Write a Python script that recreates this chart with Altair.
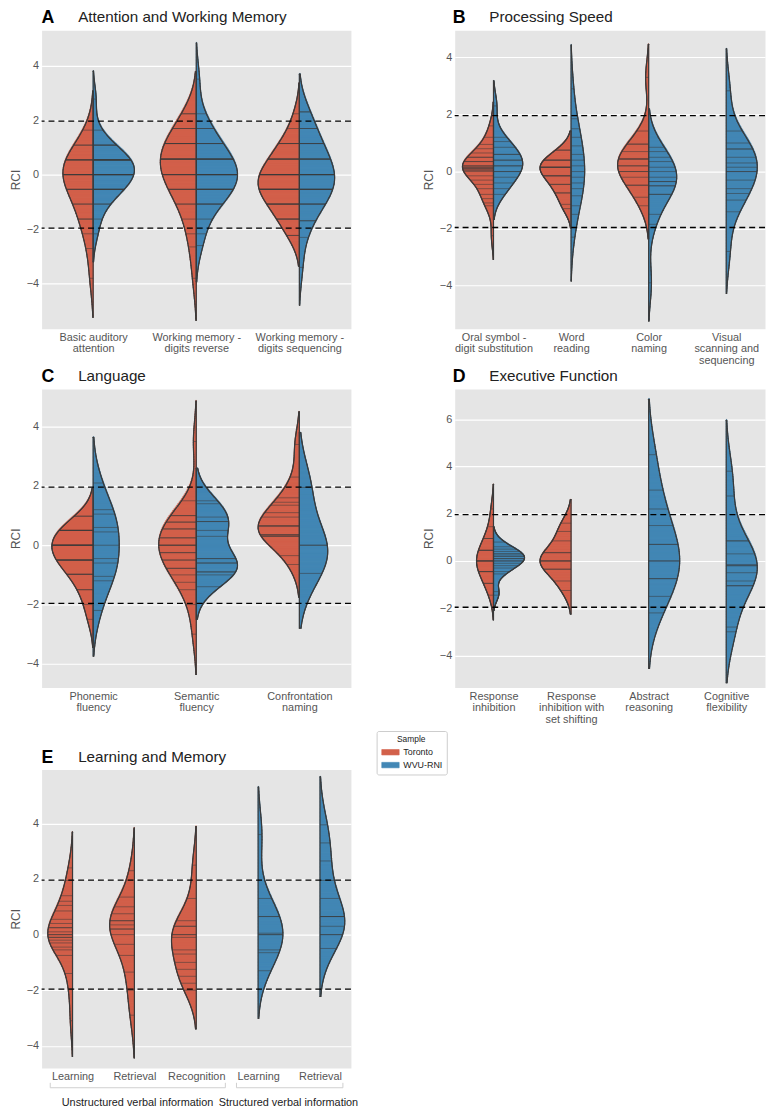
import json
import numpy as np
import pandas as pd
import altair as alt

FONT = "Liberation Sans, Arial, sans-serif"
TOR = "#D2604A"
WVU = "#4287B5"
EDGE = "#3a3a3a"
BG = "#E5E5E5"
SAMPLES = ["Toronto", "WVU-RNI"]
THRESH = [1.96, -1.96]

# ---------------- data (RCI values) ----------------
A_cats = [["Basic auditory", "attention"], ["Working memory -", "digits reverse"], ["Working memory -", "digits sequencing"]]
A_basic_T = [1.63, 1.08, 1.08, 0.54, 0.54, 0.54, 0.54, 0.0, 0.0, 0.0, 0.0, 0.0, -0.54, -0.54, -0.54, -1.08, -1.08, -1.63, -1.63, -2.17, -2.71, -3.8]
A_basic_W = [2.77, 1.63, 1.08, 1.08, 1.08, 0.54, 0.54, 0.54, 0.54, 0.54, 0.54, 0.54, 0.0, 0.0, 0.0, 0.0, 0.0, 0.0, 0.0, -0.54, -0.54, -0.54, -0.54, -0.54, -1.08, -1.08, -1.63, -2.17]
A_wmr_T = [2.23, 2.23, 1.69, 1.69, 1.14, 1.14, 1.14, 1.14, 0.57, 0.57, 0.57, 0.57, 0.57, 0.0, 0.0, 0.0, 0.0, -0.54, -0.54, -0.54, -1.08, -1.08, -1.63, -2.17, -2.65, -3.8]
A_wmr_W = [3.5, 2.23, 1.69, 1.69, 1.14, 1.14, 1.14, 0.57, 0.57, 0.57, 0.57, 0.57, 0.0, 0.0, 0.0, 0.0, 0.0, 0.0, -0.54, -0.54, -0.54, -0.54, -0.54, -1.08, -1.08, -1.08, -1.63, -2.17, -2.6]
A_wms_T = [2.23, 1.69, 1.14, 1.14, 1.14, 0.57, 0.57, 0.57, 0.57, 0.0, 0.0, 0.0, 0.0, 0.0, 0.0, -0.54, -0.54, -0.54, -0.54, -0.54, -0.54, -1.08, -1.08, -1.08, -1.08, -1.63, -1.63, -1.63, -2.23, -2.23]
A_wms_W = [2.3, 2.3, 1.69, 1.69, 1.14, 1.14, 1.14, 0.57, 0.57, 0.57, 0.57, 0.0, 0.0, 0.0, 0.0, 0.0, -0.54, -0.54, -0.54, -0.54, -0.54, -1.08, -1.08, -1.08, -1.69, -1.69, -2.3, -3.4]

B_cats = [["Oral symbol -", "digit substitution"], ["Word", "reading"], ["Color", "naming"], ["Visual", "scanning and", "sequencing"]]
B_oral_T = [1.6, 1.2, 0.95, 0.8, 0.65, 0.5, 0.5, 0.35, 0.35, 0.2, 0.2, 0.15, 0.15, 0.1, 0.1, 0.05, 0.05, 0.0, -0.15, -0.3, -0.45, -0.6, -0.8, -0.95, -1.1, -1.2, -2.25]
B_oral_W = [2.3, 1.2, 1.05, 0.85, 0.6, 0.6, 0.4, 0.4, 0.2, 0.2, 0.0, 0.0, -0.2, -0.4, -0.6, -0.8]
B_word_T = [0.75, 0.75, 0.4, 0.4, 0.4, 0.15, 0.15, 0.15, 0.15, -0.15, -0.15, -0.15, -0.45, -0.45, -0.75, -0.75, -1.15, -1.3]
B_word_W = [2.9, 1.85, 1.5, 1.2, 0.9, 0.6, 0.4, 0.2, 0.0, -0.2, -0.4, -0.6, -0.85, -1.2, -1.5, -2.3]
B_color_T = [3.3, 1.42, 0.96, 0.96, 0.7, 0.44, 0.44, 0.44, 0.2, 0.2, 0.0, 0.0, -0.2, -0.48, -0.48, -0.9, -1.2]
B_color_W = [0.85, 0.7, 0.5, 0.35, 0.15, 0.0, -0.2, -0.35, -0.35, -0.5, -0.5, -0.8, -0.8, -1.5, -1.85, -3.9]
B_visual_W = [2.83, 1.42, 1.0, 0.79, 0.79, 0.5, 0.3, 0.15, 0.0, 0.0, -0.3, -0.6, -0.77, -1.0, -1.41, -2.8]

C_cats = [["Phonemic", "fluency"], ["Semantic", "fluency"], ["Confrontation", "naming"]]
C_phon_T = [0.98, 0.98, 0.5, 0.5, 0.5, 0.5, 0.5, 0.0, 0.0, 0.0, 0.0, 0.0, 0.0, -0.5, -0.5, -0.5, -0.5, -0.5, -0.98, -0.98, -0.98, -1.5, -1.5, -2.0, -2.5]
C_phon_W = [2.1, 1.2, 1.05, 0.6, 0.45, 0.0, -0.45, -0.6, -1.05, -1.2, -2.2]
C_sem_T = [3.5, 1.5, 1.0, 1.0, 0.78, 0.78, 0.55, 0.55, 0.25, 0.25, 0.0, 0.0, 0.0, -0.25, -0.25, -0.5, -0.5, -0.78, -0.78, -1.0, -1.25, -1.5, -2.0, -3.0]
C_sem_W = [1.5, 1.4, 0.95, 0.8, 0.8, 0.5, 0.3, -0.45, -0.45, -0.6, -0.6, -0.9, -0.9, -1.0, -1.4]
C_conf_T = [3.4, 2.3, 1.6, 1.45, 1.35, 1.1, 0.95, 0.65, 0.65, 0.65, 0.35, 0.35, 0.35, 0.3, 0.3, -0.35, -0.65]
C_conf_W = [1.95, 0.0, 0.0, -0.95]

D_cats = [["Response", "inhibition"], ["Response", "inhibition with", "set shifting"], ["Abstract", "reasoning"], ["Cognitive", "flexibility"]]
D_resp_T = [2.2, 1.45, 0.95, 0.95, 0.45, 0.45, 0.45, 0.0, 0.0, 0.0, 0.0, -0.45, -0.45, -0.45, -0.95, -0.95, -1.45]
D_resp_W = [0.8, 0.6, 0.5, 0.4, 0.3, 0.3, 0.2, 0.2, 0.1, 0.1, 0.0, 0.0, -0.1, -0.2, -0.3, -0.45, -0.55, -1.3, -1.45]
D_shift_T = [1.6, 1.25, 0.85, 0.35, 0.35, 0.0, 0.0, 0.0, -0.35, -0.35, -0.85, -1.25]
D_abs_W = [4.5, 3.0, 2.2, 1.5, 0.7, 0.7, 0.0, 0.0, -0.75, -0.75, -1.5, -2.2]
D_cog_W = [3.8, 2.75, 0.85, 0.85, 0.3, -0.15, -0.2, -0.2, -0.5, -0.85, -1.05, -1.05, -2.8, -3.0]

E_cats = [["Learning"], ["Retrieval"], ["Recognition"], ["Learning"], ["Retrieval"]]
E_learn_T = [2.4, 1.95, 1.4, 1.2, 1.05, 0.85, 0.55, 0.4, 0.25, 0.25, 0.1, 0.0, 0.0, -0.1, -0.1, -0.2, -0.3, -0.45, -0.55, -0.75, -1.4, -1.95, -3.1]
E_retr_T = [2.3, 1.35, 1.0, 0.75, 0.5, 0.5, 0.35, 0.2, 0.2, 0.0, -0.35, -0.75, -1.35, -2.0, -2.9]
E_recog_T = [2.5, 1.3, 0.5, 0.3, 0.3, 0.0, 0.0, -0.1, -0.55, -0.7, -1.0, -1.25, -1.5, -1.75, -2.0]
E_slearn_W = [3.6, 1.3, 0.65, 0.65, 0.05, 0.0, 0.0, -0.55, -0.65, -1.3]
E_sretr_W = [3.95, 3.3, 2.65, 1.95, 1.3, 0.65, 0.65, 0.65, 0.3, 0.0, 0.0, -0.5]
E_groups = ["Unstructured verbal information", "Structured verbal information"]

A_ydom, B_ydom, C_ydom, D_ydom, E_ydom = [-5.65, 5.29], [-5.51, 4.95], [-4.8, 5.27], [-5.36, 7.28], [-4.8, 5.94]
TICKS_STD = [-4, -2, 0, 2, 4]
TICKS_D = [-4, -2, 0, 2, 4, 6]

NGRID = 160


def kde(vals):
    v = np.asarray(vals, float)
    n = len(v)
    bw = n ** (-0.2) * v.std(ddof=1)
    grid = np.linspace(v.min() - 2 * bw, v.max() + 2 * bw, NGRID)

    def f(p):
        p = np.asarray(p, float)
        return np.exp(-0.5 * ((p[:, None] - v[None, :]) / bw) ** 2).sum(1) / (n * bw * np.sqrt(2 * np.pi))

    return grid, f(grid), v, f(v)


cscale = alt.Scale(domain=SAMPLES, range=[TOR, WVU])
legend = alt.Legend(
    title="Sample", orient="none", legendX=339, legendY=709, titleFontSize=8.5, labelFontSize=9,
    titleFont=FONT, labelFont=FONT, titleFontWeight="normal", titleColor="#222", labelColor="#222",
    symbolType="M-1.6,-0.5H1.6V0.5H-1.6Z", symbolSize=121, symbolStrokeWidth=0.6, symbolStrokeColor="#555",
    symbolOffset=4, symbolOpacity=1, fillColor="white", strokeColor="#cccccc", padding=4, cornerRadius=2,
    titleAnchor="middle", rowPadding=2, titlePadding=3, labelOffset=7,
)


def panel(letter, title, cats, halves, ydom, yticks, w, h, letter_dx=0):
    n = len(cats)
    dens = {(ci, s): kde(vals) for ci, s, vals in halves}
    tiles, segs, srows = [], [], []
    for (ci, s), (g, d, v, dv) in dens.items():
        m = max(dd[1].max() for (c2, _), dd in dens.items() if c2 == ci)
        sign = -1 if s == "Toronto" else 1
        xe = ci + sign * 0.4 * d / m
        step = g[1] - g[0]
        for i in range(len(g) - 1):
            xo = xe[i] if abs(xe[i] - ci) > abs(xe[i + 1] - ci) else xe[i + 1]
            tiles.append({"sample": s, "y": g[i], "y2": g[i + 1] + 0.5 * step, "x": ci, "x2": xo})
        # outline (edge, closing ends, centre line)
        for a in range(len(g) - 1):
            segs.append({"x": xe[a], "y": g[a], "x2": xe[a + 1], "y2": g[a + 1]})
        segs.append({"x": ci, "y": g[0], "x2": xe[0], "y2": g[0]})
        segs.append({"x": ci, "y": g[-1], "x2": xe[-1], "y2": g[-1]})
        segs.append({"x": ci, "y": g[0], "x2": ci, "y2": g[-1]})
        for yy, val in zip(v, dv):
            srows.append({"y": yy, "x": ci + sign * 0.4 * val / m, "x0": ci})
    tdf, odf, sdf = pd.DataFrame(tiles), pd.DataFrame(segs), pd.DataFrame(srows)

    expr = " : ".join(f"datum.value == {i} ? {json.dumps(lines)}" for i, lines in enumerate(cats)) + " : ''"
    xs = alt.Scale(domain=[-0.5, n - 0.5], nice=False, zero=False)
    ys = alt.Scale(domain=ydom, nice=False, zero=False)
    xaxis = alt.Axis(values=list(range(n)), labelExpr=expr, title=None, grid=False, ticks=False, domain=False,
                     labelFontSize=11, labelColor="#555", labelFont=FONT, labelPadding=3, labelLineHeight=11.5,
                     labelOverlap=False, labelFlush=False, labelBound=False)
    yaxis = alt.Axis(values=yticks, title="RCI", grid=True, gridColor="white", gridWidth=1.2, ticks=False,
                     domain=False, labelFontSize=11, labelColor="#555", labelFont=FONT, labelPadding=3,
                     titleFontSize=12, titleFontWeight="normal", titleColor="#555", titleFont=FONT, titlePadding=4)

    fill = alt.Chart(tdf).mark_rect(strokeWidth=0.6, opacity=1).encode(
        x=alt.X("x:Q", scale=xs, axis=xaxis), x2="x2:Q",
        y=alt.Y("y:Q", scale=ys, axis=yaxis), y2="y2:Q",
        color=alt.Color("sample:N", scale=cscale, legend=legend),
        stroke=alt.Stroke("sample:N", scale=cscale, legend=None),
    )
    sticks = alt.Chart(sdf).mark_rule(color=EDGE, strokeWidth=0.7, opacity=0.75).encode(
        x=alt.X("x0:Q", scale=xs), x2="x:Q", y=alt.Y("y:Q", scale=ys))
    outline = alt.Chart(odf).mark_rule(color=EDGE, strokeWidth=1.2, strokeCap="round").encode(
        x=alt.X("x:Q", scale=xs), x2="x2:Q", y=alt.Y("y:Q", scale=ys), y2="y2:Q")
    dashed = alt.Chart(pd.DataFrame({"y": THRESH})).mark_rule(color="black", strokeDash=[6, 4], strokeWidth=1.4).encode(
        y=alt.Y("y:Q", scale=ys))
    lt = alt.Chart(pd.DataFrame({"t": [letter]})).mark_text(
        align="left", baseline="middle", fontSize=18, fontWeight="bold", font=FONT, color="black").encode(
        x=alt.value(letter_dx), y=alt.value(-12), text="t:N")
    tt = alt.Chart(pd.DataFrame({"t": [title]})).mark_text(
        align="left", baseline="middle", fontSize=15.4, font=FONT, color="#222").encode(
        x=alt.value(37 + letter_dx), y=alt.value(-13), text="t:N")
    return [fill, sticks, outline, dashed, lt, tt], xs, w, h


def finish(parts):
    layers, xs, w, h = parts
    return alt.layer(*layers).properties(width=w, height=h)


pA = panel("A", "Attention and Working Memory", A_cats,
           [(0, "Toronto", A_basic_T), (0, "WVU-RNI", A_basic_W), (1, "Toronto", A_wmr_T), (1, "WVU-RNI", A_wmr_W),
            (2, "Toronto", A_wms_T), (2, "WVU-RNI", A_wms_W)], A_ydom, TICKS_STD, 313, 302)
pB = panel("B", "Processing Speed", B_cats,
           [(0, "Toronto", B_oral_T), (0, "WVU-RNI", B_oral_W), (1, "Toronto", B_word_T), (1, "WVU-RNI", B_word_W),
            (2, "Toronto", B_color_T), (2, "WVU-RNI", B_color_W), (3, "WVU-RNI", B_visual_W)], B_ydom, TICKS_STD, 314, 302, -2)
pC = panel("C", "Language", C_cats,
           [(0, "Toronto", C_phon_T), (0, "WVU-RNI", C_phon_W), (1, "Toronto", C_sem_T), (1, "WVU-RNI", C_sem_W),
            (2, "Toronto", C_conf_T), (2, "WVU-RNI", C_conf_W)], C_ydom, TICKS_STD, 313, 302)
pD = panel("D", "Executive Function", D_cats,
           [(0, "Toronto", D_resp_T), (0, "WVU-RNI", D_resp_W), (1, "Toronto", D_shift_T), (2, "WVU-RNI", D_abs_W),
            (3, "WVU-RNI", D_cog_W)], D_ydom, TICKS_D, 314, 302, -2)
pE = panel("E", "Learning and Memory", E_cats,
           [(0, "Toronto", E_learn_T), (1, "Toronto", E_retr_T), (2, "Toronto", E_recog_T), (3, "WVU-RNI", E_slearn_W),
            (4, "WVU-RNI", E_sretr_W)], E_ydom, TICKS_STD, 313, 302)

# group brackets below panel E
layersE, xsE, wE, hE = pE
gdf = pd.DataFrame({"label": E_groups, "x1": [-0.36, 2.65], "x2": [2.47, 4.37], "xc": [1.05, 3.49]})
br_h = alt.Chart(gdf).mark_rule(color="#cfcfcf", strokeWidth=1).encode(
    x=alt.X("x1:Q", scale=xsE), x2="x2:Q", y=alt.value(322))
br_l = alt.Chart(gdf).mark_rule(color="#cfcfcf", strokeWidth=1).encode(
    x=alt.X("x1:Q", scale=xsE), y=alt.value(317), y2=alt.value(322))
br_r = alt.Chart(gdf).mark_rule(color="#cfcfcf", strokeWidth=1).encode(
    x=alt.X("x2:Q", scale=xsE), y=alt.value(317), y2=alt.value(322))
gtxt = alt.Chart(gdf).mark_text(fontSize=11, font=FONT, color="#222", baseline="middle").encode(
    x=alt.X("xc:Q", scale=xsE), y=alt.value(337), text="label:N")
pE = (layersE + [br_h, br_l, br_r, gtxt], xsE, wE, hE)

row1 = alt.hconcat(finish(pA), finish(pB), spacing=69)
row2 = alt.hconcat(finish(pC), finish(pD), spacing=69)
row3 = finish(pE)

top = alt.vconcat(row1, row2, spacing=1)
chart = alt.vconcat(top, row3, spacing=23).properties(
    padding={"left": 0, "top": -6, "right": 0, "bottom": 0}).configure_view(fill=BG, stroke="transparent")

chart.save("out.html", embed_options={"renderer": "svg", "actions": False})
